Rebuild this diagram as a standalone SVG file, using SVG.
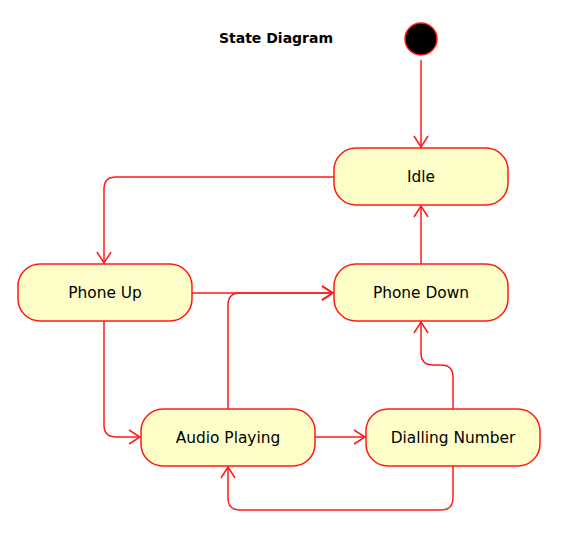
<svg xmlns="http://www.w3.org/2000/svg" width="577" height="540" viewBox="0 0 577 540">
<defs>
<marker id="arr" markerWidth="14" markerHeight="16" refX="12" refY="8" orient="auto" markerUnits="userSpaceOnUse">
<path d="M1,1 L12,8 L1,15" fill="none" stroke="#ff1a1a" stroke-width="1.5"/>
</marker>
</defs>
<style>
.st{fill:#fefec9;stroke:#ff1a1a;stroke-width:1.5}
.lb{font-family:"DejaVu Sans",Verdana,sans-serif;font-size:15.4px;fill:#000;text-anchor:middle}
.cn{fill:none;stroke:#ff1a1a;stroke-width:1.5}
</style>
<rect width="577" height="540" fill="#fff"/>
<text x="276" y="43" font-family="DejaVu Sans,Verdana,sans-serif" font-size="14" font-weight="bold" text-anchor="middle">State Diagram</text>
<g id="connectors">
<path class="cn" d="M421,60 L421,147" marker-end="url(#arr)"/>
<path class="cn" d="M334,177 L116,177 Q104,177 104,189 L104,263" marker-end="url(#arr)"/>
<path class="cn" d="M421,264 L421,206" marker-end="url(#arr)"/>
<path class="cn" d="M192,293 L333,293" marker-end="url(#arr)"/>
<path class="cn" d="M228,409 L228,305 Q228,293 240,293 L333,293" marker-end="url(#arr)"/>
<path class="cn" d="M104,321 L104,425 Q104,437 116,437 L140,437" marker-end="url(#arr)"/>
<path class="cn" d="M315,437 L365,437" marker-end="url(#arr)"/>
<path class="cn" d="M453,409 L453,377 Q453,365 441,365 L433,365 Q421,365 421,353 L421,322" marker-end="url(#arr)"/>
<path class="cn" d="M453,466 L453,498 Q453,510 441,510 L240,510 Q228,510 228,498 L228,467" marker-end="url(#arr)"/>
</g>
<g id="initial"><circle cx="421" cy="39" r="16" fill="#000" stroke="#ff1a1a" stroke-width="1.5"/></g>
<g id="idle"><rect class="st" x="334" y="148" width="174" height="57" rx="22"/><text class="lb" x="421" y="182">Idle</text></g>
<g id="phoneup"><rect class="st" x="18" y="264" width="174" height="57" rx="22"/><text class="lb" x="105" y="298">Phone Up</text></g>
<g id="phonedown"><rect class="st" x="334" y="264" width="174" height="57" rx="22"/><text class="lb" x="421" y="298">Phone Down</text></g>
<g id="audio"><rect class="st" x="141" y="409" width="174" height="57" rx="22"/><text class="lb" x="228" y="443">Audio Playing</text></g>
<g id="dialling"><rect class="st" x="366" y="409" width="174" height="57" rx="22"/><text class="lb" x="453" y="443">Dialling Number</text></g>
</svg>
